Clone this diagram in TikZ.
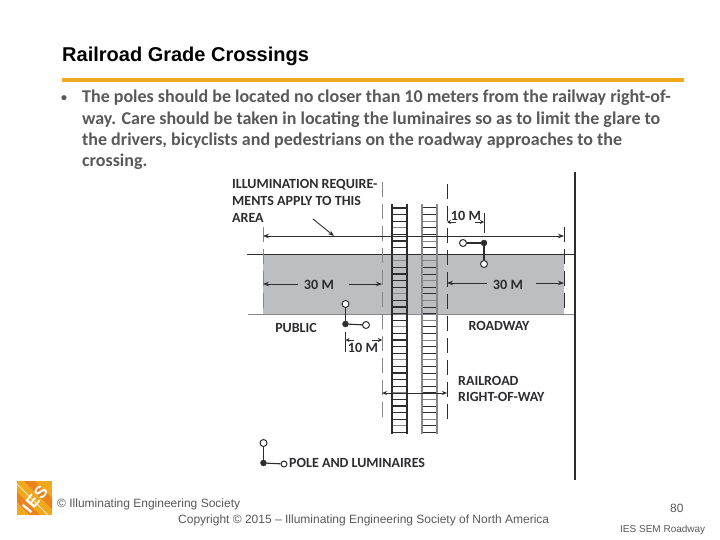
\documentclass[tikz,border=0pt]{standalone}
\usepackage{fontspec}
\setmainfont{Liberation Sans}
\newfontfamily\bodyfont{Carlito}
\usetikzlibrary{arrows.meta}
\definecolor{iesorange}{RGB}{240,168,28}
\definecolor{iesdeep}{RGB}{236,130,30}
\definecolor{bodygray}{RGB}{89,89,89}
\definecolor{zonegray}{RGB}{189,190,194}
\definecolor{darkline}{RGB}{45,45,48}
\definecolor{railgray}{RGB}{135,135,138}
\tikzset{
  slidetitle/.style={anchor=west, inner sep=0pt, font=\fontsize{20}{22}\selectfont\bfseries, text=black},
  bodyline/.style={anchor=west, inner sep=0pt, font=\bodyfont\fontsize{18}{20}\selectfont\bfseries, text=bodygray},
  footer/.style={anchor=west, inner sep=0pt, text=bodygray, font=\fontsize{12}{14}\selectfont},
  label-text/.style={anchor=west, inner sep=0pt, text=darkline, font=\bodyfont\fontsize{14}{15}\selectfont\bfseries},
  dim-text/.style={inner sep=0pt, text=darkline, font=\bodyfont\fontsize{14.2}{16}\selectfont\bfseries},
  boundary/.style={draw=darkline, line width=1pt, dash pattern=on 15pt off 7pt},
  boundary-pale/.style={boundary, draw=railgray},
  edge-line/.style={draw=darkline, line width=1pt},
  dim-arrow/.style={draw=darkline, line width=0.9pt, -{Stealth[length=6pt,width=4.5pt]}},
  rail-dark/.style={draw=darkline, line width=1.4pt},
  rail-light/.style={draw=railgray, line width=1.4pt},
  pole-base/.style={circle, fill=darkline, draw=darkline, minimum size=6pt, inner sep=0pt},
  luminaire/.style={circle, fill=white, draw=darkline, line width=1pt, minimum size=7pt, inner sep=0pt},
  pole-arm/.style={draw=darkline, line width=1.1pt}
}
\begin{document}
\begin{tikzpicture}[x=1pt,y=-1pt]
  \useasboundingbox (0,0) rectangle (720,540);
  \fill[white] (0,0) rectangle (720,540);
  % Heading
  \node[slidetitle] (title) at (62,56) {Railroad Grade Crossings};
  \coordinate (ruleL) at (62,80);
  \coordinate (ruleR) at (684,80);
  \draw[iesorange, line width=4pt] (ruleL) -- (ruleR);
  % Bullet
  \node[bodyline, font=\bodyfont\fontsize{12}{14}\selectfont\bfseries] (bullet) at (61,98.5) {•};
  \node[bodyline] (lineA) at (82,98) {The poles should be located no closer than 10 meters from the railway right-of-};
  \node[bodyline] (lineB) at (82,120) {way. Care should be taken in locating the luminaires so as to limit the glare to};
  \node[bodyline] (lineC) at (82,141) {the drivers, bicyclists and pedestrians on the roadway approaches to the};
  \node[bodyline] (lineD) at (82,162) {crossing.};
  % Lit area
  \fill[zonegray] (263,254) rectangle (564,314);
  \coordinate (edgeTopL) at (247,254);
  \coordinate (edgeTopR) at (575,254);
  \coordinate (edgeLowL) at (248,314);
  \coordinate (edgeLowR) at (575,314);
  \coordinate (curbTop) at (575,172);
  \coordinate (curbLow) at (575,480);
  \draw[edge-line] (edgeTopL) -- (edgeTopR);
  \draw[edge-line, draw=railgray] (edgeLowL) -- (edgeLowR);
  \draw[draw=darkline, line width=2pt] (curbTop) -- (curbLow);
  % Tracks
  \foreach \i in {0,...,34}{
    \pgfmathsetmacro{\y}{208+6.6*\i}
    \pgfmathparse{int(mod(\i,5))}
    \ifnum\pgfmathresult=3 \draw[railgray, line width=1pt] (392,\y) -- (407,\y);
    \else \draw[darkline, line width=1.2pt] (392,\y) -- (407,\y); \fi
    \pgfmathparse{int(mod(\i,3))}
    \ifnum\pgfmathresult=2 \draw[railgray, line width=1pt] (422,\y) -- (437,\y);
    \else \draw[darkline, line width=1pt] (422,\y) -- (437,\y); \fi
  }
  \draw[rail-dark] (392,204) -- (392,434);
  \draw[rail-dark] (407,204) -- (407,434);
  \draw[rail-light] (422,204) -- (422,434);
  \draw[rail-light] (437,204) -- (437,434);
  % Boundaries
  \coordinate (bndA1) at (263,227);
  \coordinate (bndA2) at (263,314);
  \coordinate (bndB1) at (382,182);
  \coordinate (bndB2) at (382,422);
  \coordinate (bndC1) at (447,184);
  \coordinate (bndC2) at (447,422);
  \coordinate (bndD1) at (564,227);
  \coordinate (bndD2) at (564,314);
  \draw[boundary-pale] (bndA1) -- (bndA2);
  \draw[boundary-pale] (bndB1) -- (bndB2);
  \draw[boundary] (bndC1) -- (bndC2);
  \draw[boundary] (bndD1) -- (bndD2);
  % Texts
  \node[label-text] (areaA) at (232,184.5) {ILLUMINATION REQUIRE-};
  \node[label-text] (areaB) at (232,200.5) {MENTS APPLY TO THIS};
  \node[label-text] (areaC) at (232,217.5) {AREA};
  \node[label-text, anchor=center] (public) at (296,328) {PUBLIC};
  \node[label-text, anchor=center] (roadway) at (499,326) {ROADWAY};
  \node[label-text] (railA) at (458,381) {RAILROAD};
  \node[label-text] (railB) at (458,397) {RIGHT-OF-WAY};
  % Dimensions
  \coordinate (wideL) at (263,236);
  \coordinate (wideR) at (564,236);
  \coordinate (wideM) at (334,236);
  \coordinate (ptrTail) at (313,219);
  \draw[dim-arrow, {Stealth[length=6pt,width=4.5pt]}-{Stealth[length=6pt,width=4.5pt]}] (wideL) -- (wideR);
  \draw[dim-arrow] (ptrTail) -- (wideM);
  \node[dim-text] (leftThirty) at (319,284.5) {30 M};
  \node[dim-text] (rightThirty) at (508,284.5) {30 M};
  \coordinate (leftA) at (263,284);
  \coordinate (leftB) at (382,284);
  \coordinate (rightA) at (447,283);
  \coordinate (rightB) at (564,283);
  \coordinate (leftC) at (298,284);
  \coordinate (leftD) at (349,284);
  \coordinate (rightC) at (487,283);
  \coordinate (rightD) at (536,283);
  \draw[dim-arrow] (leftC) -- (leftA);
  \draw[dim-arrow] (leftD) -- (leftB);
  \draw[dim-arrow] (rightC) -- (rightA);
  \draw[dim-arrow] (rightD) -- (rightB);
  \coordinate (wayL) at (382,393);
  \coordinate (wayR) at (447,393);
  \draw[dim-arrow, {Stealth[length=5pt,width=4pt]}-{Stealth[length=5pt,width=4pt]}] (wayL) -- (wayR);
  % Upper 10 M
  \node[dim-text] (tenUp) at (466,216) {10 M};
  \coordinate (tenUpTop) at (484,213);
  \coordinate (tenUpLow) at (484,233);
  \coordinate (tenUpA) at (456,222);
  \coordinate (tenUpB) at (447,222);
  \coordinate (tenUpC) at (475,222);
  \coordinate (tenUpD) at (484,222);
  \draw[edge-line] (tenUpTop) -- (tenUpLow);
  \draw[dim-arrow, {Stealth[length=4pt,width=4pt]}-] (tenUpB) -- (tenUpA);
  \draw[dim-arrow, -{Stealth[length=4pt,width=4pt]}] (tenUpC) -- (tenUpD);
  % Lower 10 M
  \node[dim-text] (tenLow) at (363,348) {10 M};
  \coordinate (tenLowTop) at (345.5,332);
  \coordinate (tenLowEnd) at (345.5,352);
  \coordinate (tenLowA) at (372,340);
  \coordinate (tenLowB) at (382,340);
  \coordinate (tenLowC) at (345.5,340);
  \coordinate (tenLowD) at (354,340);
  \draw[edge-line] (tenLowTop) -- (tenLowEnd);
  \draw[dim-arrow, {Stealth[length=4pt,width=4pt]}-] (tenLowC) -- (tenLowD);
  \draw[dim-arrow, -{Stealth[length=4pt,width=4pt]}] (tenLowA) -- (tenLowB);
  % Poles
  \node[pole-base] (poleR) at (484,243) {};
  \node[luminaire] (lumRa) at (463,243) {};
  \node[luminaire] (lumRb) at (484,264) {};
  \draw[pole-arm] (poleR) -- (lumRa);
  \draw[pole-arm] (poleR) -- (lumRb);
  \node[pole-base] (poleL) at (345.5,324) {};
  \node[luminaire] (lumLa) at (345.5,304) {};
  \node[luminaire] (lumLb) at (366,325) {};
  \draw[pole-arm] (poleL) -- (lumLa);
  \draw[pole-arm] (poleL) -- (lumLb);
  \node[pole-base] (poleK) at (263.5,463) {};
  \node[luminaire] (lumKa) at (263.5,443) {};
  \node[luminaire, minimum size=6pt] (lumKb) at (284,464) {};
  \draw[pole-arm] (poleK) -- (lumKa);
  \draw[pole-arm] (poleK) -- (lumKb);
  \node[label-text] (legend) at (289,463) {POLE AND LUMINAIRES};
  % Footer
  \begin{scope}
    \clip (17,481) rectangle (52,515);
    \fill[iesorange] (17,481) rectangle (52,515);
    \fill[iesdeep] (24,481) -- (52,509) -- (52,498) -- (35,481) -- cycle;
    \fill[iesdeep] (17,492) -- (40,515) -- (30,515) -- (17,502) -- cycle;
    \draw[white!70!iesorange, line width=1pt] (17,484) -- (48,515);
  \end{scope}
  \node[inner sep=0pt, rotate=50, text=white, font=\fontsize{17}{18}\selectfont\bfseries] (logo) at (35,499) {I\kern1pt E\kern1pt S};
  \node[footer] (societyA) at (57,504) {© Illuminating Engineering Society};
  \node[footer] (societyB) at (178,520) {Copyright © 2015 – Illuminating Engineering Society of North America};
  \node[footer] (pageNo) at (670,508) {80};
  \node[footer, font=\fontsize{10}{11}\selectfont] (deck) at (620,530) {IES SEM Roadway};
\end{tikzpicture}
\end{document}
